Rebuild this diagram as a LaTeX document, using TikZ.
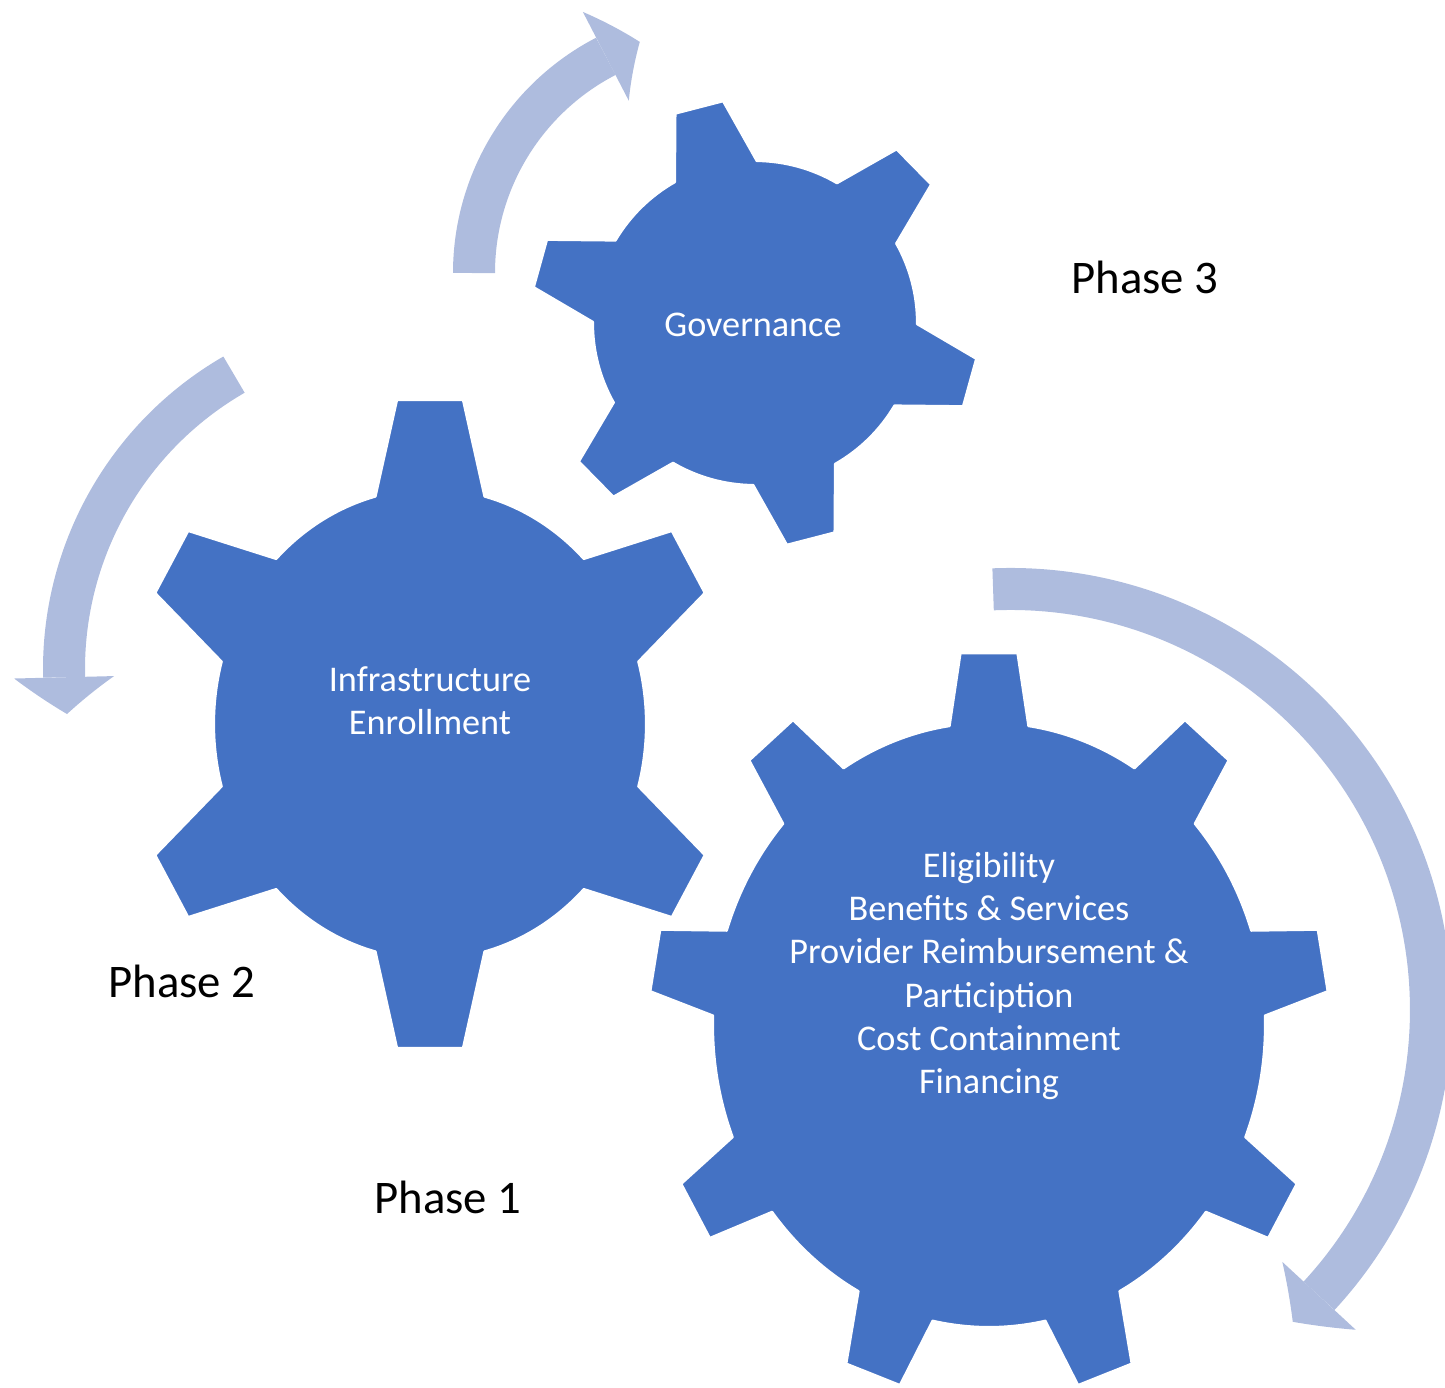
\documentclass[tikz,border=0pt]{standalone}
\usepackage{fontspec}
\setmainfont{Carlito}
\usetikzlibrary{arrows.meta,bending}
\definecolor{gearblue}{RGB}{68,114,196}
\definecolor{arrowblue}{RGB}{174,188,222}
\tikzset{
  cog/.style={fill=gearblue, draw=white, line width=0.6pt, line join=round},
  cogtext/.style={text=white, align=center, font=\fontsize{10.3}{12.3}\selectfont},
  phaselabel/.style={text=black, font=\fontsize{13.3}{16}\selectfont},
  phasearrow/.style={draw=arrowblue, line width=4.2mm,
    -{Triangle[length=3.7mm, width=10mm, line width=0pt, bend]}},
}
% centre, teeth, first tooth, outer radii, inner radii, tip and base half angles
\newcommand{\drawcog}[7]{%
  \path[cog, shift={(#1)}] (#3-#7:#5)
    \foreach \k [evaluate=\k as \ca using #3+(\k-1)*360/#2,
                 evaluate=\k as \cb using #3+\k*360/#2] in {1,...,#2}
    { -- (\ca-#6:#4) -- (\ca+#6:#4) -- (\ca+#7:#5) arc (\ca+#7:\cb-#7:#5) } -- cycle;}
\begin{document}
\begin{tikzpicture}
  \useasboundingbox (0,0) rectangle (14.45,-13.87);
  \coordinate (cogA) at (9.89,-10.25);
  \coordinate (cogB) at (4.30,-7.24);
  \coordinate (cogC) at (7.55,-3.23);
  \drawcog{cogB}{6}{30}{3.00 and 3.26}{2.16 and 2.35}{6.3}{14.6}
  \drawcog{cogC}{6}{44.5}{2.24 and 2.24}{1.62 and 1.62}{6.3}{15.1}
  \drawcog{cogA}{9}{90}{3.40 and 3.73}{2.76 and 3.02}{4.8}{8.2}
  \coordinate (tail3) at (4.74,-2.73);
  \coordinate (tail2) at (2.34,-3.746);
  \coordinate (tail1) at (9.931,-5.893);
  \draw[phasearrow] (tail3) arc[start angle=180, end angle=108.7, radius=2.44];
  \draw[phasearrow] (tail2) arc[start angle=120, end angle=187.6, radius=3.40];
  \draw[phasearrow] (tail1) arc[start angle=92.3, end angle=-47.8, radius=4.21];
  \node[cogtext] (governance) at (7.53,-3.245) {Governance};
  \node[cogtext] (infra) at (4.30,-7.005) {Infrastructure\\Enrollment};
  \node[cogtext] (eligibility) at (9.89,-9.76) {Eligibility\\Benefits \& Services\\Provider Reimbursement \&\\Particiption\\Cost Containment\\Financing};
  \node[phaselabel] (phase3) at (11.45,-2.77) {Phase 3};
  \node[phaselabel] (phase2) at (1.82,-9.81) {Phase 2};
  \node[phaselabel] (phase1) at (4.48,-11.97) {Phase 1};
\end{tikzpicture}
\end{document}
